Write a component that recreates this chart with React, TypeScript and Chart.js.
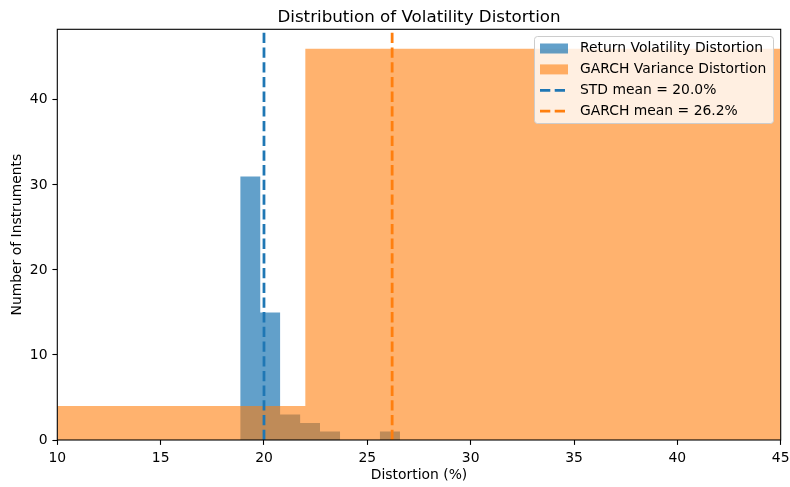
import React, { useEffect, useRef } from 'react';
import { Chart, registerables } from 'chart.js';

Chart.register(...registerables);

const titleText = 'Distribution of Volatility Distortion';
const xLabel = 'Distortion (%)';
const yLabel = 'Number of Instruments';

const stdEdges = [18.85, 19.82, 20.78, 21.75, 22.71, 23.68, 24.65, 25.61, 26.58];
const stdCounts = [31, 15, 3, 2, 1, 0, 0, 1];
const garchEdges = [-2, 22, 46];
const garchCounts = [4, 46];
const stdMean = 20.0;
const garchMean = 26.2;

const xTicks = [10, 15, 20, 25, 30, 35, 40, 45];
const yTicks = [0, 10, 20, 30, 40];
const X_MIN = 10;
const X_MAX = 45;
const Y_MAX = 48.3;

const seriesNames = ['Return Volatility Distortion', 'GARCH Variance Distortion'];
const meanNames = ['STD mean = 20.0%', 'GARCH mean = 26.2%'];

const BLUE = '#1f77b4';
const ORANGE = '#ff7f0e';
const BLUE_FILL = 'rgba(31,119,180,0.7)';
const ORANGE_FILL = 'rgba(255,127,14,0.6)';
const FONT = '"DejaVu Sans", sans-serif';
const FS = 13.9;

function histPoints(edges: number[], counts: number[]) {
  const pts = counts.map((c, i) => ({ x: edges[i], y: c }));
  pts.push({ x: edges[edges.length - 1], y: 0 });
  return pts;
}

const framePlugin = {
  id: 'frame',
  afterDatasetsDraw(chart: any) {
    const { ctx, chartArea: a } = chart;
    ctx.save();
    ctx.strokeStyle = '#000';
    ctx.lineWidth = 1.1;
    ctx.strokeRect(a.left, a.top, a.right - a.left, a.bottom - a.top);
    ctx.restore();
  },
};

const titleLegendPlugin = {
  id: 'titleLegend',
  afterDraw(chart: any) {
    const { ctx, chartArea: a } = chart;
    ctx.save();
    // title
    ctx.fillStyle = '#000';
    ctx.font = `16.7px ${FONT}`;
    ctx.textAlign = 'center';
    ctx.textBaseline = 'alphabetic';
    ctx.fillText(titleText, (a.left + a.right) / 2, 21.7);

    // legend
    const lx = 534.5, ly = 36.5, lw = 239, lh = 87;
    ctx.beginPath();
    (ctx as any).roundRect(lx, ly, lw, lh, 3);
    ctx.fillStyle = 'rgba(255,255,255,0.8)';
    ctx.fill();
    ctx.strokeStyle = '#cccccc';
    ctx.lineWidth = 1;
    ctx.stroke();

    const rowY = (i: number) => 48.5 + i * 20.9;
    const hx = 540, hw = 28;
    // patches
    ctx.fillStyle = BLUE_FILL;
    ctx.fillRect(hx, rowY(0) - 5, hw, 10);
    ctx.fillStyle = ORANGE_FILL;
    ctx.fillRect(hx, rowY(1) - 5, hw, 10);
    // dashed lines
    ctx.lineWidth = 2.78;
    ctx.setLineDash([10.3, 4.4]);
    [BLUE, ORANGE].forEach((c, k) => {
      ctx.strokeStyle = c;
      ctx.beginPath();
      ctx.moveTo(hx, rowY(2 + k));
      ctx.lineTo(hx + hw, rowY(2 + k));
      ctx.stroke();
    });
    ctx.setLineDash([]);
    ctx.fillStyle = '#000';
    ctx.font = `${FS}px ${FONT}`;
    ctx.textAlign = 'left';
    ctx.textBaseline = 'middle';
    [...seriesNames, ...meanNames].forEach((t, i) => {
      ctx.fillText(t, 580, rowY(i));
    });
    ctx.restore();
  },
};

export default function App() {
  const ref = useRef<HTMLCanvasElement>(null);

  useEffect(() => {
    if (!ref.current) return;
    const chart = new Chart(ref.current, {
      type: 'line',
      data: {
        datasets: [
          {
            label: meanNames[0],
            data: [{ x: stdMean, y: 0 }, { x: stdMean, y: Y_MAX }],
            borderColor: BLUE,
            borderWidth: 2.78,
            borderDash: [10.3, 4.4],
            pointRadius: 0,
            fill: false,
            order: 0,
          },
          {
            label: meanNames[1],
            data: [{ x: garchMean, y: 0 }, { x: garchMean, y: Y_MAX }],
            borderColor: ORANGE,
            borderWidth: 2.78,
            borderDash: [10.3, 4.4],
            pointRadius: 0,
            fill: false,
            order: 1,
          },
          {
            label: seriesNames[1],
            data: histPoints(garchEdges, garchCounts),
            stepped: true,
            borderColor: 'rgba(0,0,0,0)',
            borderWidth: 0,
            backgroundColor: ORANGE_FILL,
            pointRadius: 0,
            fill: 'origin',
            order: 2,
          },
          {
            label: seriesNames[0],
            data: histPoints(stdEdges, stdCounts),
            stepped: true,
            borderColor: 'rgba(0,0,0,0)',
            borderWidth: 0,
            backgroundColor: BLUE_FILL,
            pointRadius: 0,
            fill: 'origin',
            order: 3,
          },
        ] as any,
      },
      options: {
        animation: false,
        responsive: false,
        devicePixelRatio: 1,
        layout: { padding: { top: 29.3, right: 9.3, left: 0, bottom: 0 } },
        plugins: {
          legend: { display: false },
          title: { display: false },
          tooltip: { enabled: false },
        },
        scales: {
          x: {
            type: 'linear',
            min: X_MIN,
            max: X_MAX,
            afterBuildTicks: (s: any) => {
              s.ticks = xTicks.map((v) => ({ value: v }));
            },
            afterFit: (s: any) => {
              s.height = 47;
              s.paddingLeft = 0;
              s.paddingRight = 0;
            },
            grid: {
              display: true,
              drawOnChartArea: false,
              drawTicks: true,
              tickLength: 4.9,
              tickWidth: 1.1,
              tickColor: '#000',
            },
            border: { display: false },
            ticks: {
              color: '#000',
              font: { family: FONT, size: FS },
              padding: 4.9,
              maxRotation: 0,
              autoSkip: false,
              callback: (v: any) => String(v),
            },
            title: {
              display: true,
              text: xLabel,
              color: '#000',
              font: { family: FONT, size: FS },
              padding: { top: 0, bottom: 3.7 },
            },
          },
          y: {
            type: 'linear',
            min: 0,
            max: Y_MAX,
            afterBuildTicks: (s: any) => {
              s.ticks = yTicks.map((v) => ({ value: v }));
            },
            afterFit: (s: any) => {
              s.width = 57.3;
              s.paddingTop = 0;
              s.paddingBottom = 0;
            },
            grid: {
              display: true,
              drawOnChartArea: false,
              drawTicks: true,
              tickLength: 4.9,
              tickWidth: 1.1,
              tickColor: '#000',
            },
            border: { display: false },
            ticks: {
              color: '#000',
              font: { family: FONT, size: FS },
              padding: 4.9,
              autoSkip: false,
              callback: (v: any) => String(v),
            },
            title: {
              display: true,
              text: yLabel,
              color: '#000',
              font: { family: FONT, size: FS },
              padding: { top: 9.2, bottom: 0 },
            },
          },
        },
      } as any,
      plugins: [framePlugin, titleLegendPlugin],
    });
    return () => chart.destroy();
  }, []);

  return (
    <div style={{ position: 'absolute', left: 0, top: 0, width: 790, height: 487, background: '#fff' }}>
      <canvas ref={ref} width={790} height={487} style={{ width: 790, height: 487 }} />
    </div>
  );
}
